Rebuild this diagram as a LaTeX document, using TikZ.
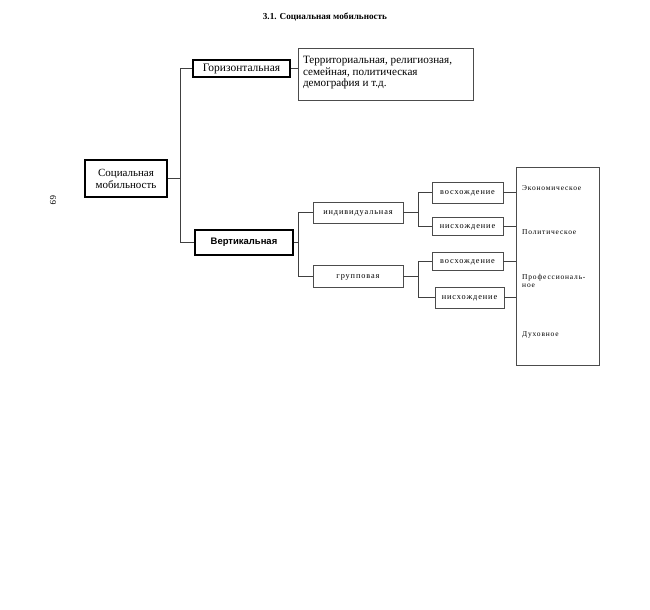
\documentclass[tikz,border=0pt]{standalone}
\usepackage{fontspec}
\setmainfont{Liberation Serif}
\setsansfont{Liberation Sans}
\newfontfamily\spacedserif[LetterSpace=11]{Liberation Serif}
\begin{document}
\begin{tikzpicture}[x=1bp,y=-1bp,
  mainbox/.style={draw=black,line width=1.6bp,minimum width=#1,inner sep=1bp,font=\fontsize{11.5}{12}\selectfont},
  smallbox/.style={draw=black!70,line width=0.6bp,minimum width=#1,inner sep=1bp,text height=4bp,text depth=0bp,font=\spacedserif\fontsize{8.3}{9}\selectfont},
  bigtext/.style={anchor=west,inner sep=0pt,align=left,font=\spacedserif\fontsize{7.5}{8}\selectfont},
  lk/.style={draw=black!75,line width=0.6bp}
]
\useasboundingbox (0,0) rectangle (650,610);
\node (title) at (325,17) {\fontsize{9.2}{10}\selectfont\bfseries 3.1. Социальная мобильность};
\node[rotate=-90] (page) at (53,200) {\fontsize{9}{10}\selectfont 69};

\node[mainbox=97bp,minimum height=17bp] (horiz) at (241.5,68.5) {Горизонтальная};
\node[draw=black!70,line width=0.7bp,minimum width=175bp,minimum height=52bp,inner sep=3bp,font=\fontsize{11.2}{11.8}\selectfont] (desc) at (385.5,74)
  {\parbox[c][44bp][t]{165bp}{\raggedright\vspace*{4bp}Территориальная, религиозная,\\семейная, политическая\\демография и т.д.}};
\node[mainbox=82bp,minimum height=37bp,align=center,font=\fontsize{11}{12}\selectfont] (social) at (126,178.5) {Социальная\\мобильность};
\node[mainbox=98bp,minimum height=25bp,font=\sffamily\bfseries\fontsize{9.5}{11}\selectfont] (vert) at (244,242.5) {Вертикальная};

\node[smallbox=90bp,minimum height=21bp] (indiv) at (358,212.5) {индивидуальная};
\node[smallbox=90bp,minimum height=22bp] (group) at (358,276) {групповая};

\node[smallbox=71bp,minimum height=21bp] (up1) at (467.5,192.5) {восхождение};
\node[smallbox=71bp,minimum height=18bp] (down1) at (467.5,226) {нисхождение};
\node[smallbox=71bp,minimum height=18bp] (up2) at (467.5,261) {восхождение};
\node[smallbox=69bp,minimum height=21bp] (down2) at (469.5,297.5) {нисхождение};

\node[draw=black!70,line width=0.7bp,minimum width=83bp,minimum height=198bp,inner sep=0pt] (big) at (557.5,266) {};
\node[bigtext] (econ) at (522,188) {Экономическое};
\node[bigtext] (polit) at (522,232) {Политическое};
\node[bigtext] (prof) at (522,281) {Профессиональ-\\ное};
\node[bigtext] (spirit) at (522,335) {Духовное};

\coordinate (j1) at (180,0);
\coordinate (j2) at (298,0);
\coordinate (j3) at (418,0);

\draw[lk] (social.east) -- (social.east -| j1);
\draw[lk] (horiz.west) -- (horiz.west -| j1) |- (vert.west);
\draw[lk] (horiz.east) -- (horiz.east -| desc.west);

\draw[lk] (vert.east) -- (vert.east -| j2);
\draw[lk] (indiv.west) -- (indiv.west -| j2) |- (group.west);

\draw[lk] (indiv.east) -- (indiv.east -| j3);
\draw[lk] (up1.west) -- (up1.west -| j3) |- (down1.west);
\draw[lk] (group.east) -- (group.east -| j3);
\draw[lk] (up2.west) -- (up2.west -| j3) |- (down2.west);

\draw[lk] (up1.east) -- (up1.east -| big.west);
\draw[lk] (down1.east) -- (down1.east -| big.west);
\draw[lk] (up2.east) -- (up2.east -| big.west);
\draw[lk] (down2.east) -- (down2.east -| big.west);
\end{tikzpicture}
\end{document}
